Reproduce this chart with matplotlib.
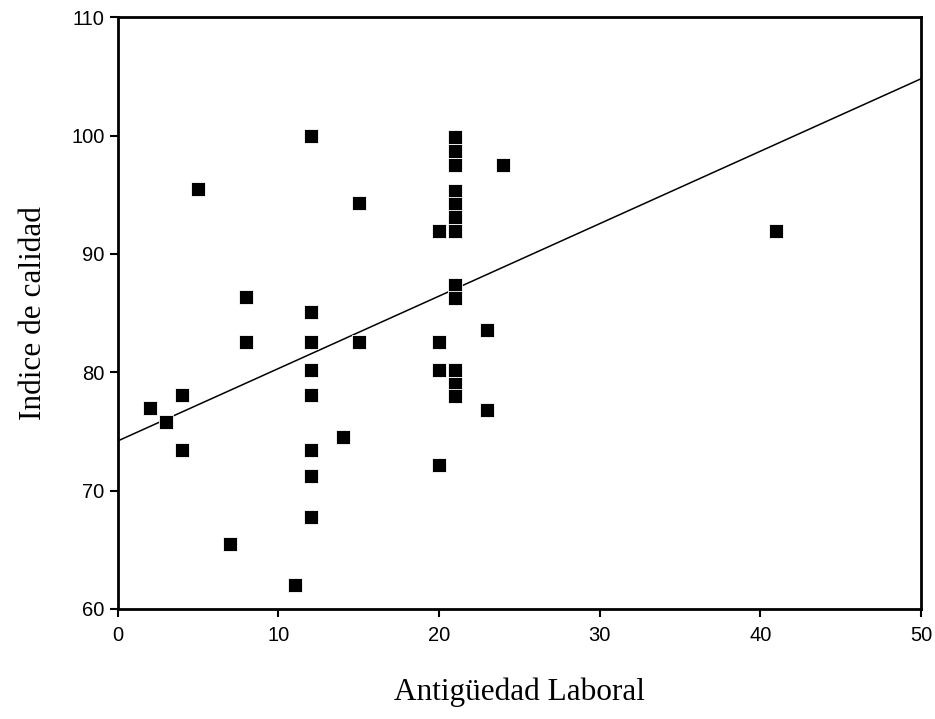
import numpy as np
import matplotlib.pyplot as plt

# --- datos ---
antiguedad = [2, 3, 4, 4, 5, 7, 8, 8, 11,
              12, 12, 12, 12, 12, 12, 12, 12,
              14, 15, 15, 20, 20, 20, 20,
              21, 21, 21, 21, 21, 21, 21, 21, 21, 21, 21, 21,
              23, 23, 24, 41]
indice = [77.0, 75.8, 78.1, 73.4, 95.5, 65.5, 86.4, 82.6, 62.0,
          100.0, 85.1, 82.6, 80.2, 78.1, 73.4, 71.2, 67.8,
          74.5, 94.3, 82.6, 91.9, 82.6, 80.2, 72.2,
          99.9, 98.7, 97.5, 95.3, 94.2, 93.1, 91.9, 87.4, 86.3, 80.2, 79.0, 78.0,
          83.6, 76.8, 97.5, 91.9]
x_ticks = [0, 10, 20, 30, 40, 50]
y_ticks = [60, 70, 80, 90, 100, 110]

# recta de ajuste tal como aparece en el gráfico
ordenada = 74.2
pendiente = 0.612

x = np.array(antiguedad)
y = np.array(indice)
xl = np.array([0, 50])

fig = plt.figure(figsize=(9.35, 7.19), dpi=100)
ax = fig.add_axes([0.126, 0.153, 0.859, 0.823])

ax.plot(xl, ordenada + pendiente * xl, color='black', lw=1.1)
ax.scatter(x, y, marker='s', s=100, color='black', linewidths=0.6,
           edgecolors='white', zorder=3)

ax.set_xlim(0, 50)
ax.set_ylim(60, 110)
ax.set_xticks(x_ticks)
ax.set_yticks(y_ticks)
for s in ax.spines.values():
    s.set_linewidth(2)
ax.tick_params(direction='out', length=6, width=1.5, labelsize=14.5)
ax.tick_params(axis='x', pad=6)
for lab in ax.get_xticklabels() + ax.get_yticklabels():
    lab.set_family('Liberation Sans')

ax.set_xlabel('Antigüedad Laboral', family='Liberation Serif', fontsize=22.5, labelpad=24)
ax.set_ylabel('Indice de calidad', family='Liberation Serif', fontsize=22.5, labelpad=17)

fig.savefig('out.png', dpi=100)
